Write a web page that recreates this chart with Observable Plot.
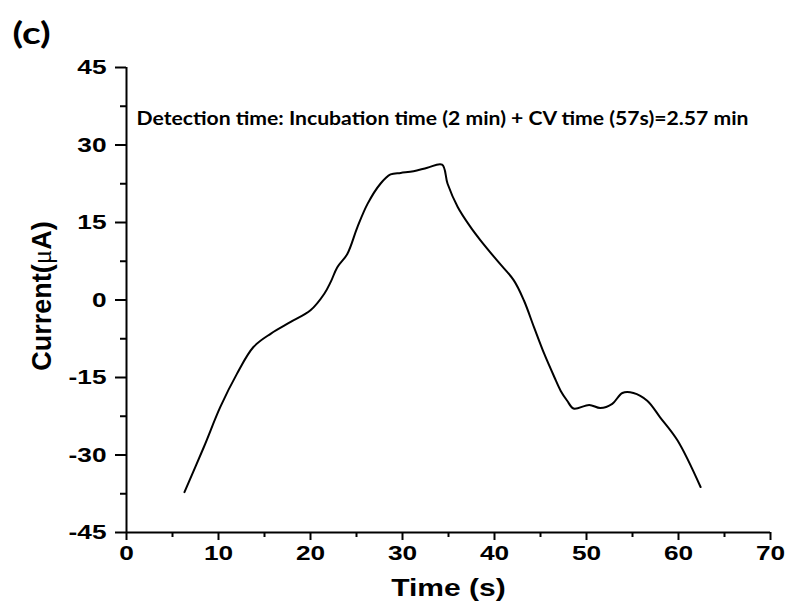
<!DOCTYPE html>
<html>
<head>
<meta charset="utf-8">
<script src="https://cdn.jsdelivr.net/npm/d3@7"></script>
<script src="https://cdn.jsdelivr.net/npm/@observablehq/plot@0.6"></script>
<style>
  body { margin: 0; background: #fff; }
  #chart { width: 792px; height: 606px; }
</style>
</head>
<body>
<div id="chart"></div>
<script>
// Data
const time = [6.3, 8.4, 10.2, 12.0, 13.8, 15.7, 17.8, 20.0, 21.5, 22.2, 22.9, 24.0, 25.1, 26.2, 27.6, 28.7, 29.8, 31.2, 32.7, 34.3, 34.9, 36.0, 37.4, 38.5, 40.3, 42.1, 43.2, 44.3, 45.4, 46.5, 47.2, 47.9, 48.6, 50.3, 51.5, 52.8, 53.9, 55.1, 56.6, 58.0, 59.9, 62.4];
const current = [-37.2, -28.5, -20.7, -14.3, -9.1, -6.5, -4.3, -2.0, 1.2, 3.5, 6.3, 8.9, 14.1, 18.6, 22.5, 24.3, 24.6, 24.9, 25.6, 26.2, 22.5, 18.0, 14.1, 11.5, 7.6, 3.8, -0.1, -5.3, -10.4, -14.9, -17.6, -19.5, -21.0, -20.3, -20.9, -20.1, -18.0, -18.0, -19.5, -22.7, -27.2, -36.2];

const xTicks = [0, 10, 20, 30, 40, 50, 60, 70];
const xMinorTicks = [5, 15, 25, 35, 45, 55, 65];
const yTicks = [-45, -30, -15, 0, 15, 30, 45];
const yMinorTicks = [-37.5, -22.5, -7.5, 7.5, 22.5, 37.5];

const panelLabel = "(c)";
const xLabel = "Time (s)";
const yLabel = "Current(μA)";
const note = "Detection time: Incubation time (2 min) + CV time (57s)=2.57 min";

const data = time.map((t, i) => ({t, c: current[i]}));

const tickFont = {fontSize: 21, fontWeight: "bold"};
const fmt = d => String(d);

const chart = Plot.plot({
  width: 792,
  height: 606,
  marginLeft: 126,
  marginRight: 22,
  marginTop: 67,
  marginBottom: 74,
  style: {fontFamily: "'Liberation Sans', Arial, sans-serif", background: "#fff", color: "#000"},
  x: {domain: [0, 70]},
  y: {domain: [-45, 45]},
  marks: [
    Plot.axisX(xTicks, {tickSize: 8, tickPadding: 5, strokeWidth: 2, tickFormat: fmt, label: null, ...tickFont}),
    Plot.axisX(xMinorTicks, {tickSize: 5, strokeWidth: 2, tickFormat: () => "", label: null}),
    Plot.axisY(yTicks, {tickSize: 11, tickPadding: 9, strokeWidth: 2, tickFormat: fmt, label: null, ...tickFont}),
    Plot.axisY(yMinorTicks, {tickSize: 6, strokeWidth: 2, tickFormat: () => "", label: null}),
    Plot.ruleX([0], {y1: -45, y2: 45, strokeWidth: 2}),
    Plot.ruleY([-45], {x1: 0, x2: 70, strokeWidth: 2}),
    Plot.line(data, {x: "t", y: "c", curve: "catmull-rom", strokeWidth: 2, stroke: "#000"}),
    Plot.text([note], {frameAnchor: "top-left", dx: 10, dy: 52, textAnchor: "start", lineAnchor: "middle", fontSize: 18, fontWeight: "bold", fontFamily: "Lato, 'Open Sans', sans-serif"}),
    Plot.text([xLabel], {frameAnchor: "bottom", dy: 56, textAnchor: "middle", lineAnchor: "middle", fontSize: 24, fontWeight: "bold"}),
    Plot.text([yLabel], {frameAnchor: "left", dx: -84, dy: -4, rotate: -90, textAnchor: "middle", lineAnchor: "middle", fontSize: 27, fontWeight: "bold"}),
    Plot.text([panelLabel], {frameAnchor: "top-left", dx: -114, dy: -33, textAnchor: "start", lineAnchor: "middle", fontSize: 31, fontWeight: "bold", fontFamily: "Lato, 'Open Sans', sans-serif"})
  ]
});

document.getElementById("chart").appendChild(chart);

// The reference's horizontal text is drawn wider than the plain fonts: stretch it
d3.select(chart).selectAll("text").each(function() {
  const txt = this.textContent;
  if (!txt || txt === yLabel) return;
  const w = this.getComputedTextLength();
  const target = txt === note ? 612 : w * 1.25;
  this.setAttribute("textLength", target.toFixed(1));
  this.setAttribute("lengthAdjust", "spacingAndGlyphs");
});

// Render μ in a serif, non-bold face as in the reference
d3.select(chart).selectAll("text").filter(function() { return this.textContent === yLabel; }).each(function() {
  const el = d3.select(this);
  el.text(null);
  el.append("tspan").text("Current(");
  el.append("tspan").attr("font-family", "'Liberation Serif', serif").attr("font-weight", "normal").text("μ");
  el.append("tspan").text("A)");
});
</script>
</body>
</html>
